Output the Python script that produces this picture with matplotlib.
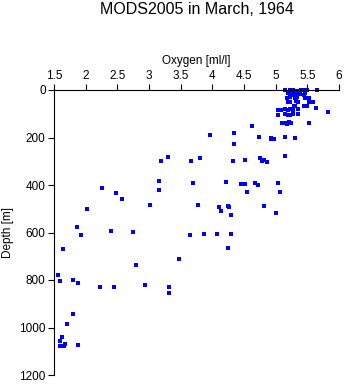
import matplotlib
matplotlib.use("Agg")
import matplotlib.pyplot as plt

# oxygen [ml/l] and depth [m]
oxygen = [
    # surface cluster
    5.14, 5.22, 5.28, 5.34, 5.40, 5.44, 5.49, 5.66,
    5.20, 5.26, 5.29, 5.35, 5.38, 5.46,
    5.22, 5.27, 5.33, 5.45,
    5.18, 5.22, 5.30, 5.34, 5.47, 5.52,
    5.19, 5.23, 5.32, 5.36, 5.53, 5.59,
    5.29, 5.31, 5.45, 5.49, 5.63,
    5.04, 5.08, 5.15, 5.19, 5.23, 5.27, 5.35,
    5.83,
    5.03, 5.15, 5.19, 5.23, 5.27, 5.35,
    5.10, 5.14, 5.18, 5.21, 5.24, 5.52,
    # mid depths
    4.62, 3.97, 4.35, 4.35, 4.74, 4.92, 4.93, 4.98, 5.15, 5.31,
    5.15, 3.67, 3.81, 4.33, 4.52, 4.76, 4.78, 4.82, 4.87,
    3.70, 4.21, 4.46, 4.52, 4.68, 4.72, 5.04, 4.54, 5.07,
    3.78, 4.11, 4.24, 4.27, 4.14, 4.81, 5.01, 4.29,
    3.65, 3.87, 4.08, 4.29, 4.24,
    3.30, 3.19, 2.26, 2.48, 2.58, 3.16, 3.16, 3.01, 2.02,
    1.86, 1.93, 2.40, 2.75,
    # deep
    1.64, 2.80, 3.48, 1.57, 1.60, 1.80, 1.88, 2.22, 2.44, 2.93, 3.32, 3.32,
    1.80, 1.71, 1.63, 1.60, 1.67, 1.60, 1.66, 1.88,
]
depth = [
    1, 2, 1, 3, 1, 2, 1, 1,
    12, 14, 11, 10, 15, 11,
    20, 21, 19, 22,
    32, 31, 32, 30, 33, 32,
    50, 49, 48, 52, 50, 52,
    66, 67, 68, 66, 74,
    85, 84, 82, 83, 81, 84, 80,
    93,
    105, 103, 104, 106, 103, 100,
    140, 137, 142, 136, 140, 138,
    153, 189, 182, 226, 198, 202, 208, 205, 199, 201,
    279, 299, 286, 299, 293, 288, 299, 296, 302,
    393, 389, 394, 397, 393, 399, 393, 431, 429,
    486, 494, 490, 494, 511, 490, 519, 528,
    611, 608, 605, 608, 667,
    283, 300, 414, 434, 460, 385, 421, 486, 500,
    578, 612, 594, 598,
    671, 738, 713, 780, 804, 799, 814, 831, 831, 823, 831, 853,
    944, 987, 1041, 1057, 1068, 1079, 1078, 1075,
]

xticks = [1.5, 2, 2.5, 3, 3.5, 4, 4.5, 5, 5.5, 6]
xticklabels = ["1.5", "2", "2.5", "3", "3.5", "4", "4.5", "5", "5.5", "6"]
yticks = [0, 200, 400, 600, 800, 1000, 1200]

plt.rcParams["font.family"] = ["Liberation Sans", "DejaVu Sans"]

fig = plt.figure(figsize=(3.45, 3.84), dpi=100)
ax = fig.add_axes([54 / 345, 1 - 375 / 384, 285 / 345, 285 / 384])

ax.plot(oxygen, depth, "s", ms=2.4, mew=0, color="#0000ff", clip_on=False)

ax.set_xlim(1.5, 6)
ax.set_ylim(1200, 0)
ax.xaxis.tick_top()
ax.xaxis.set_label_position("top")
ax.set_xticks(xticks)
ax.set_xticklabels(xticklabels)
ax.set_yticks(yticks)
ax.tick_params(direction="out", length=4, width=0.8, labelsize=8.5, pad=2)
ax.set_xlabel("Oxygen [ml/l]", fontsize=8.5, labelpad=4)
ax.set_ylabel("Depth [m]", fontsize=8.5, labelpad=4)
for side in ("right", "bottom"):
    ax.spines[side].set_visible(False)
for side in ("top", "left"):
    ax.spines[side].set_linewidth(0.8)

fig.text(196.5 / 345, 1 - 10 / 384, "MODS2005 in March, 1964",
         ha="center", va="center", fontsize=11.5)

fig.savefig("out.png", dpi=100)
